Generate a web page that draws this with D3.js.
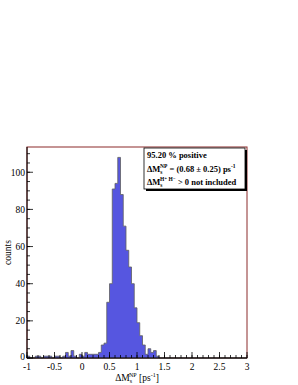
<!DOCTYPE html>
<html>
<head>
<meta charset="utf-8">
<script src="https://cdn.jsdelivr.net/npm/d3@7"></script>
<style>
  body { margin: 0; background: #fff; }
  svg { display: block; }
  text { font-family: "Liberation Serif", "DejaVu Serif", serif; }
</style>
</head>
<body>
<script>
// histogram: 80 bins of 0.05 from -1 to 3
const binStart = -1
const binWidth = 0.05
const counts = [
  1, 0, 0, 1, 1, 0, 1, 1, 1, 0,      // -1.00 .. -0.55
  1, 1, 0, 1, 3, 1, 4, 1, 0, 2,      // -0.50 .. -0.05
  1, 3, 2, 2, 2, 2, 3, 7, 8, 30,     //  0.00 ..  0.45
  40, 91, 94, 108, 88, 71, 58, 49, 40, 27, //  0.50 ..  0.95
  19, 12, 7, 2, 5, 3, 4, 1, 0, 0,    //  1.00 ..  1.45
  0, 0, 0, 0, 0, 0, 0, 0, 0, 0,
  0, 0, 0, 0, 0, 0, 0, 0, 0, 0,
  0, 0, 0, 0, 0, 0, 0, 0, 0, 0
]
const xTicks = [-1, -0.5, 0, 0.5, 1, 1.5, 2, 2.5, 3]
const xTickLabels = ["-1", "-0.5", "0", "0.5", "1", "1.5", "2", "2.5", "3"]
const yTicks = [0, 20, 40, 60, 80, 100]
const legendLines = ["95.20 % positive", "NP", "HH"]

const W = 298, H = 385
const frame = { left: 27, right: 247, top: 147, bottom: 358 }

const svg = d3.select("body").append("svg")
    .attr("width", W)
    .attr("height", H)

const x = d3.scaleLinear().domain([-1, 3]).range([frame.left, frame.right])
const y = d3.scaleLinear().domain([0, 113.6]).range([frame.bottom, frame.top])

//------------------------------- frame ---------------------------------------------
svg.append("rect")
    .attr("x", frame.left)
    .attr("y", frame.top)
    .attr("width", frame.right - frame.left)
    .attr("height", frame.bottom - frame.top)
    .attr("fill", "white")
    .attr("stroke", "#8b2a2a")
    .attr("stroke-width", 1)

//------------------------------- histogram -----------------------------------------
const pts = counts.map((c, i) => ({ x: binStart + i * binWidth, c: c }))
pts.push({ x: binStart + counts.length * binWidth, c: counts[counts.length - 1] })

const area = d3.area()
    .curve(d3.curveStepAfter)
    .x(d => x(d.x))
    .y0(y(0))
    .y1(d => y(d.c))

svg.append("path")
    .datum(pts)
    .attr("d", area)
    .attr("fill", "#5656e0")
    .attr("stroke", "#606060")
    .attr("stroke-width", 0.8)

//------------------------------- axes ----------------------------------------------
const gx = svg.append("g")
// minor ticks x
gx.selectAll(".minor")
    .data(d3.range(-1, 3.001, 0.1))
    .join("line")
    .attr("x1", d => x(d)).attr("x2", d => x(d))
    .attr("y1", frame.bottom).attr("y2", frame.bottom - 3)
    .attr("stroke", "black").attr("stroke-width", 0.8)
gx.selectAll(".major")
    .data(xTicks)
    .join("line")
    .attr("x1", d => x(d)).attr("x2", d => x(d))
    .attr("y1", frame.bottom).attr("y2", frame.bottom - 6)
    .attr("stroke", "black").attr("stroke-width", 0.8)
gx.selectAll("text")
    .data(xTicks)
    .join("text")
    .attr("x", d => x(d))
    .attr("y", frame.bottom + 12)
    .attr("text-anchor", "middle")
    .attr("font-size", 9.5)
    .text((d, i) => xTickLabels[i])
gx.append("line")
    .attr("x1", frame.left).attr("x2", frame.right)
    .attr("y1", frame.bottom).attr("y2", frame.bottom)
    .attr("stroke", "black").attr("stroke-width", 1.2)

const gy = svg.append("g")
gy.selectAll(".minor")
    .data(d3.range(0, 111, 5))
    .join("line")
    .attr("x1", frame.left).attr("x2", frame.left + 3)
    .attr("y1", d => y(d)).attr("y2", d => y(d))
    .attr("stroke", "black").attr("stroke-width", 0.8)
gy.selectAll(".major")
    .data(yTicks)
    .join("line")
    .attr("x1", frame.left).attr("x2", frame.left + 6)
    .attr("y1", d => y(d)).attr("y2", d => y(d))
    .attr("stroke", "black").attr("stroke-width", 0.8)
gy.selectAll("text")
    .data(yTicks)
    .join("text")
    .attr("x", frame.left - 2)
    .attr("y", d => y(d) + (d === 0 ? 2 : 3.5))
    .attr("text-anchor", "end")
    .attr("font-size", 9.5)
    .text(d => d)
gy.append("line")
    .attr("x1", frame.left).attr("x2", frame.left)
    .attr("y1", frame.top).attr("y2", frame.bottom)
    .attr("stroke", "black").attr("stroke-width", 1)

// axis titles
svg.append("text")
    .attr("transform", `translate(11, ${(frame.top + frame.bottom) / 2}) rotate(-90)`)
    .attr("text-anchor", "middle")
    .attr("font-size", 9.5)
    .text("counts")

const xt = svg.append("text")
    .attr("x", (frame.left + frame.right) / 2)
    .attr("y", 381)
    .attr("text-anchor", "middle")
    .attr("font-size", 9.5)
xt.append("tspan").text("ΔM")
xt.append("tspan").attr("font-size", 6).attr("dy", 2).text("s")
xt.append("tspan").attr("font-size", 6).attr("dx", -3).attr("dy", -6).text("NP")
xt.append("tspan").attr("dy", 4).text(" [ps")
xt.append("tspan").attr("font-size", 6).attr("dy", -4).text("-1")
xt.append("tspan").attr("dy", 4).text("]")

//------------------------------- legend box ----------------------------------------
const box = { x: 144, y: 148, w: 101, h: 41 }
svg.append("rect")
    .attr("x", box.x + 2).attr("y", box.y + 2)
    .attr("width", box.w).attr("height", box.h)
    .attr("fill", "black")
svg.append("rect")
    .attr("x", box.x).attr("y", box.y)
    .attr("width", box.w).attr("height", box.h)
    .attr("fill", "white")
    .attr("stroke", "black").attr("stroke-width", 0.8)

const lg = svg.append("g")
    .attr("font-weight", "bold")
    .attr("font-size", 8.5)

lg.append("text").attr("x", box.x + 3).attr("y", box.y + 10).text(legendLines[0])

const l2 = lg.append("text").attr("x", box.x + 3).attr("y", box.y + 24)
l2.append("tspan").text("ΔM")
l2.append("tspan").attr("font-size", 5.5).attr("dy", 2).text("s")
l2.append("tspan").attr("font-size", 5.5).attr("dx", -2.5).attr("dy", -6).text("NP")
l2.append("tspan").attr("dy", 4).text(" = (0.68 ± 0.25) ps")
l2.append("tspan").attr("font-size", 5.5).attr("dy", -4).text("-1")

const l3 = lg.append("text").attr("x", box.x + 3).attr("y", box.y + 37)
l3.append("tspan").text("ΔM")
l3.append("tspan").attr("font-size", 5.5).attr("dy", 2).text("s")
l3.append("tspan").attr("font-size", 5.5).attr("dx", -2.5).attr("dy", -6).text("H⁺ H⁻")
l3.append("tspan").attr("dy", 4).text(" > 0 not included")
</script>
</body>
</html>
